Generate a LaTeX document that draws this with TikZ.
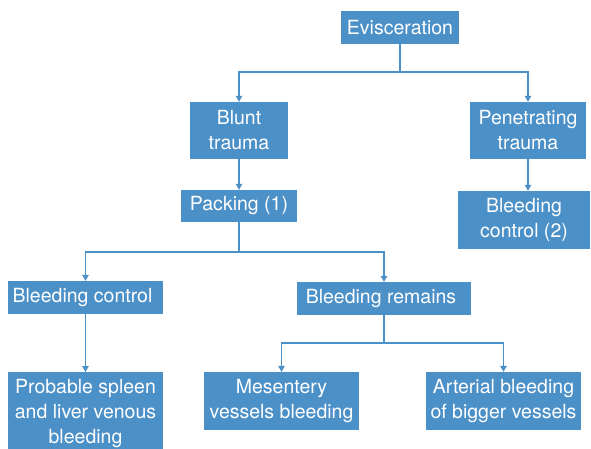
\documentclass[tikz,border=0pt]{standalone}
\usepackage{fontspec}
\setmainfont{TeX Gyre Heros}
\usetikzlibrary{arrows.meta}
\definecolor{boxblue}{RGB}{76,144,200}
\begin{document}
\begin{tikzpicture}[x=1pt,y=-1pt,
  box/.style={fill=boxblue, text=white, inner sep=0pt, align=center,
    font=\fontsize{19.5}{25}\selectfont},
  link/.style={draw=boxblue, line width=1.1pt},
  arr/.style={link, -{Triangle[length=6pt,width=6.5pt]}}]
\useasboundingbox (0,0) rectangle (591,448);

% boxes
\node[box, minimum width=118, minimum height=33] (evis) at (400,27.5) {Evisceration};
\node[box, minimum width=98, minimum height=57] (blunt) at (239,130.5) {Blunt\\trauma};
\node[box, minimum width=116, minimum height=57] (pen) at (528,130.5) {Penetrating\\trauma};
\node[box, minimum width=116, minimum height=32] (pack) at (239,206) {Packing (1)};
\node[box, minimum width=132, minimum height=58] (bc2) at (524,220) {Bleeding\\control (2)};
\node[box, minimum width=155, minimum height=33] (bc) at (85.5,297.5) {Bleeding control\hspace{6pt}};
\node[box, minimum width=174, minimum height=33] (br) at (384,298.5) {Bleeding remains\hspace{6pt}};
\node[box, anchor=north, minimum width=155, minimum height=83] (prob) at (85.5,372) {Probable spleen\\and liver venous\\bleeding};
\node[box, minimum width=155, minimum height=58] (mes) at (281.5,401) {Mesentery\\vessels bleeding};
\node[box, minimum width=155, minimum height=58] (art) at (503.5,401) {Arterial bleeding\\of bigger vessels};

% branch points
\coordinate (j1) at (400,72);
\coordinate (j2) at (239,252);
\coordinate (j3) at (384,343);

% connectors
\draw[link] (evis.south) -- (j1);
\draw[arr] (j1) -| (blunt.north);
\draw[arr] (j1) -| (pen.north);
\draw[arr] (blunt.south) -- (pack.north);
\draw[arr] (pen.south) -- (pen.south |- bc2.north);
\draw[link] (pack.south) -- (j2);
\draw[arr] (j2) -| (bc.north);
\draw[arr] (j2) -| (br.north);
\draw[arr] (bc.south) -- (prob.north);
\draw[link] (br.south) -- (j3);
\draw[arr] (j3) -| (mes.north);
\draw[arr] (j3) -| (art.north);
\end{tikzpicture}
\end{document}
